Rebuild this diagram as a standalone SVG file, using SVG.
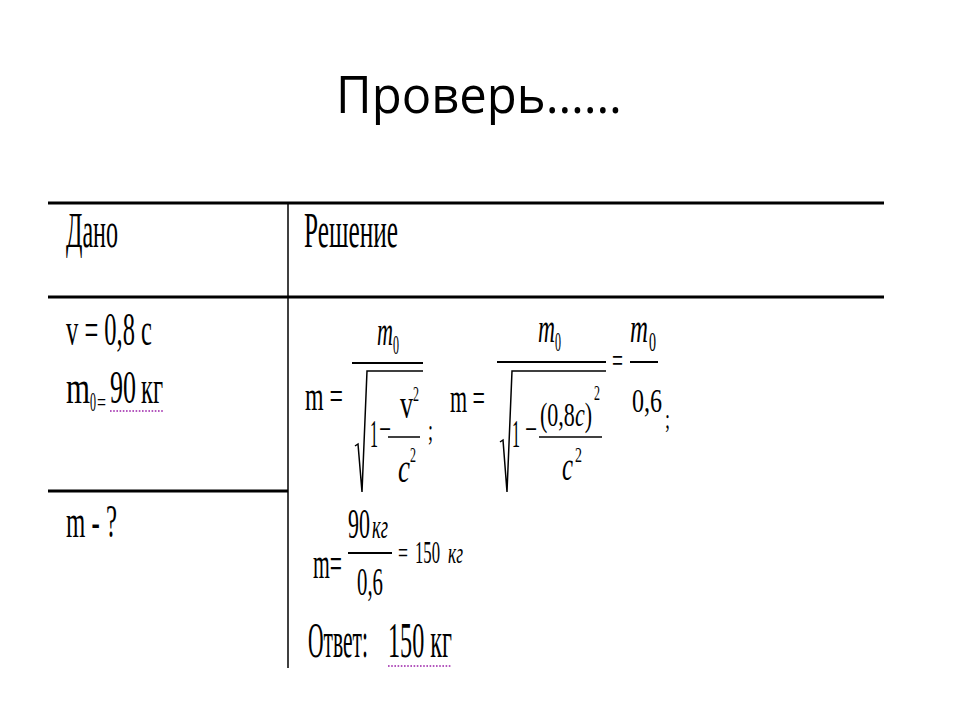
<svg xmlns="http://www.w3.org/2000/svg" width="960" height="720" viewBox="0 0 960 720">
<style>
.t{font-family:"Liberation Serif","Times New Roman",serif;fill:#000}
.i{font-style:italic}
.title{font-family:"Open Sans","Noto Sans","Liberation Sans",sans-serif;fill:#000}
.grid{stroke:#000;stroke-width:3}
.vl{stroke:#000;stroke-width:1.5}
.fr{stroke:#000;stroke-width:2}
.fr2{stroke:#000;stroke-width:1.5}
.rad{fill:none;stroke:#000;stroke-width:1.5;stroke-linejoin:miter}
.dot{stroke:#9b1fa8;stroke-width:1.6;stroke-dasharray:1.6 1.6}
</style>
<rect width="960" height="720" fill="#fff"/>
<g id="title">
<text class="title" x="336" y="113" font-size="52" textLength="286" lengthAdjust="spacingAndGlyphs">Проверь……</text>
</g>
<g id="table-grid">
<line class="grid" x1="48" y1="203" x2="884" y2="203"/>
<line class="grid" x1="48" y1="297" x2="884" y2="297"/>
<line class="grid" x1="48" y1="491" x2="288" y2="491"/>
<line class="vl" x1="288" y1="203" x2="288" y2="668"/>
</g>
<g id="header-given">
<text class="t" x="66" y="247" font-size="50" textLength="52" lengthAdjust="spacingAndGlyphs">Дано</text>
</g>
<g id="header-solution">
<text class="t" x="304" y="247" font-size="50" textLength="94" lengthAdjust="spacingAndGlyphs">Решение</text>
</g>
<g id="given">
<text class="t" x="66" y="345" font-size="47" textLength="86" lengthAdjust="spacingAndGlyphs">v = 0,8 c</text>
<text class="t" x="66" y="403" font-size="46" textLength="24" lengthAdjust="spacingAndGlyphs">m</text>
<text class="t" x="90" y="411" font-size="28" textLength="6" lengthAdjust="spacingAndGlyphs">0</text>
<text class="t" x="97" y="410" font-size="24" textLength="9" lengthAdjust="spacingAndGlyphs">=</text>
<text class="t" x="110" y="403" font-size="46" textLength="26" lengthAdjust="spacingAndGlyphs">90</text>
<text class="t" x="141" y="403" font-size="46" textLength="22" lengthAdjust="spacingAndGlyphs">кг</text>
<line class="dot" x1="110" y1="411" x2="163" y2="411"/>
</g>
<g id="unknown">
<text class="t" x="66" y="537" font-size="47" textLength="51" lengthAdjust="spacingAndGlyphs">m - ?</text>
</g>
<g id="formula-1">
<text class="t" x="305" y="410" font-size="40" textLength="38" lengthAdjust="spacingAndGlyphs">m =</text>
<text class="t i" x="377" y="345" font-size="42" textLength="16" lengthAdjust="spacingAndGlyphs">m</text>
<text class="t" x="393" y="354" font-size="28" textLength="6" lengthAdjust="spacingAndGlyphs">0</text>
<line class="fr" x1="352" y1="363" x2="423" y2="363"/>
<path class="rad" d="M355,446 L358,444 L362,492 L367,371 L423,371"/>
<text class="t" x="370" y="447" font-size="40" textLength="8" lengthAdjust="spacingAndGlyphs">1</text>
<text class="t" x="379" y="441" font-size="36" textLength="12" lengthAdjust="spacingAndGlyphs">−</text>
<line class="fr2" x1="388" y1="437" x2="420" y2="437"/>
<text class="t" x="400" y="418" font-size="40" textLength="13" lengthAdjust="spacingAndGlyphs">v</text>
<text class="t" x="413" y="401" font-size="22" textLength="6" lengthAdjust="spacingAndGlyphs">2</text>
<text class="t i" x="398" y="482" font-size="40" textLength="12" lengthAdjust="spacingAndGlyphs">c</text>
<text class="t" x="410" y="462" font-size="22" textLength="6" lengthAdjust="spacingAndGlyphs">2</text>
<text class="t" x="428" y="440" font-size="30" textLength="5" lengthAdjust="spacingAndGlyphs">;</text>
</g>
<g id="formula-2">
<text class="t" x="450" y="412" font-size="40" textLength="35" lengthAdjust="spacingAndGlyphs">m =</text>
<text class="t i" x="538" y="342" font-size="42" textLength="17" lengthAdjust="spacingAndGlyphs">m</text>
<text class="t" x="555" y="351" font-size="28" textLength="6" lengthAdjust="spacingAndGlyphs">0</text>
<line class="fr" x1="497" y1="362" x2="606" y2="362"/>
<path class="rad" d="M500,442 L503,440 L507,492 L512,371 L606,371"/>
<text class="t" x="512" y="447" font-size="40" textLength="8" lengthAdjust="spacingAndGlyphs">1</text>
<text class="t" x="525" y="441" font-size="36" textLength="12" lengthAdjust="spacingAndGlyphs">−</text>
<line class="fr2" x1="539" y1="437" x2="602" y2="437"/>
<text class="t" x="540" y="426" font-size="34" textLength="52" lengthAdjust="spacingAndGlyphs">(0,8<tspan class="i">c</tspan>)</text>
<text class="t" x="594" y="400" font-size="22" textLength="6" lengthAdjust="spacingAndGlyphs">2</text>
<text class="t i" x="562" y="480" font-size="40" textLength="11" lengthAdjust="spacingAndGlyphs">c</text>
<text class="t" x="575" y="462" font-size="22" textLength="7" lengthAdjust="spacingAndGlyphs">2</text>
<text class="t" x="612" y="372" font-size="34" textLength="11" lengthAdjust="spacingAndGlyphs">=</text>
<text class="t i" x="630" y="342" font-size="42" textLength="18" lengthAdjust="spacingAndGlyphs">m</text>
<text class="t" x="649" y="351" font-size="28" textLength="7" lengthAdjust="spacingAndGlyphs">0</text>
<line class="fr" x1="630" y1="362" x2="658" y2="362"/>
<text class="t" x="632" y="412" font-size="33" textLength="30" lengthAdjust="spacingAndGlyphs">0,6</text>
<text class="t" x="665" y="428" font-size="28" textLength="5" lengthAdjust="spacingAndGlyphs">;</text>
</g>
<g id="formula-3">
<text class="t" x="313" y="578" font-size="44" textLength="29" lengthAdjust="spacingAndGlyphs">m=</text>
<text class="t" x="348" y="538" font-size="42" textLength="22" lengthAdjust="spacingAndGlyphs">90</text>
<text class="t i" x="372" y="538" font-size="33" textLength="16" lengthAdjust="spacingAndGlyphs">кг</text>
<line class="fr" x1="348" y1="553" x2="392" y2="553"/>
<text class="t" x="357" y="595" font-size="40" textLength="26" lengthAdjust="spacingAndGlyphs">0,6</text>
<text class="t" x="398" y="563" font-size="30" textLength="10" lengthAdjust="spacingAndGlyphs">=</text>
<text class="t" x="415" y="563" font-size="32" textLength="25" lengthAdjust="spacingAndGlyphs">150</text>
<text class="t i" x="448" y="563" font-size="30" textLength="15" lengthAdjust="spacingAndGlyphs">кг</text>
</g>
<g id="answer">
<text class="t" x="308" y="657" font-size="50" textLength="60" lengthAdjust="spacingAndGlyphs">Ответ:</text>
<text class="t" x="388" y="657" font-size="50" textLength="64" lengthAdjust="spacingAndGlyphs">150 кг</text>
<line class="dot" x1="388" y1="666" x2="452" y2="666"/>
</g>
</svg>
